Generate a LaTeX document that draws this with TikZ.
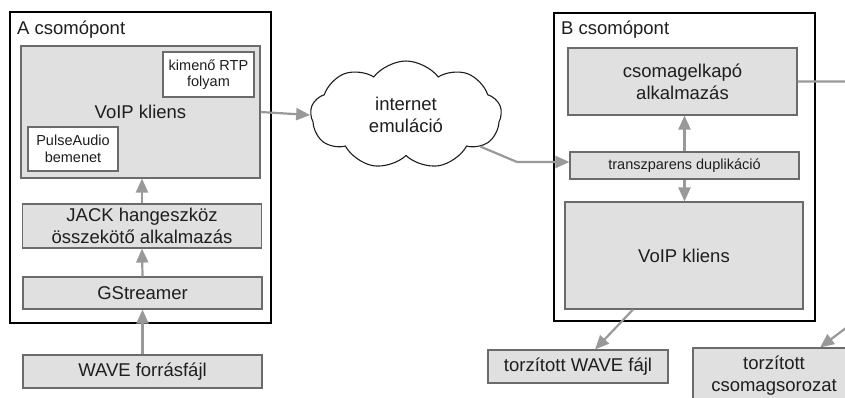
\documentclass[tikz,border=0pt]{standalone}
\usepackage{fontspec}
\setmainfont{Liberation Sans}
\usetikzlibrary{arrows.meta,shapes.symbols}
\definecolor{ink}{HTML}{1E1E1E}
\definecolor{boxfill}{HTML}{E0E0E0}
\definecolor{boxline}{HTML}{6B6B6B}
\definecolor{arrowgray}{HTML}{999999}
\newcommand{\bigtxt}{\fontsize{18.5}{22}\selectfont}
\newcommand{\smalltxt}{\fontsize{14.5}{16.5}\selectfont}
\tikzset{
  host/.style={draw=black, line width=2.4pt},
  hostlabel/.style={anchor=west, inner sep=0pt, text=ink, font=\bigtxt},
  graybox/.style={draw=boxline, fill=boxfill, line width=1.1pt, inner sep=0pt,
    text=ink, font=\bigtxt, align=center},
  whitebox/.style={draw=boxline, fill=white, line width=1.1pt, inner sep=0pt,
    text=ink, font=\smalltxt, align=center},
  arr/.style={draw=arrowgray, line width=2.2pt,
    -{Triangle[length=14pt,width=12pt,fill=arrowgray]}}
}
\begin{document}
\begin{tikzpicture}[x=1pt,y=-1pt]
\useasboundingbox (0,0) rectangle (845,397);
\clip (0,0) rectangle (845,397);

% ---- node A ----
\draw[host] (10,12) rectangle (271,323);
\node[hostlabel] (alabel) at (17,30) {A csomópont};
\node[graybox, minimum width=239pt, minimum height=132pt] (voipA) at (140.5,112) {VoIP kliens};
\node[whitebox, minimum width=91pt, minimum height=45pt] (rtp) at (208.5,74.5) {kimenő RTP\\folyam};
\node[whitebox, minimum width=90pt, minimum height=44pt] (pulse) at (73,149) {PulseAudio\\bemenet};
\node[graybox, minimum width=239pt, minimum height=44pt] (jack) at (142,226) {JACK hangeszköz\\összekötő alkalmazás};
\node[graybox, minimum width=239pt, minimum height=32pt] (gst) at (142.5,293) {GStreamer};
\node[graybox, minimum width=239pt, minimum height=33pt] (wave) at (142.5,371.5) {WAVE forrásfájl};

% ---- network ----
\node[cloud, draw=ink, fill=white, line width=1.1pt, cloud puffs=9, cloud puff arc=105,
      aspect=1.8, minimum width=191pt, minimum height=108pt, inner sep=0pt,
      text=ink, font=\bigtxt, align=center] (cloud) at (406,115) {internet\\emuláció};

% ---- node B ----
\draw[host] (554,13) rectangle (815,321);
\node[hostlabel] (blabel) at (561,30) {B csomópont};
\node[graybox, minimum width=229pt, minimum height=67pt] (capt) at (682.5,81.5) {csomagelkapó\\alkalmazás};
\node[graybox, minimum width=229pt, minimum height=27pt, font=\smalltxt] (dup) at (684.5,165.5) {transzparens duplikáció};
\node[graybox, minimum width=238pt, minimum height=107pt] (voipB) at (684,255.5) {VoIP kliens};
\node[graybox, minimum width=180pt, minimum height=33pt] (twave) at (578,366.5) {torzított WAVE fájl};
\node[graybox, minimum width=162pt, minimum height=56pt] (tseq) at (774,376) {torzított\\csomagsorozat};

% ---- connectors ----
\draw[arr] (wave.north) -- (gst.south);
\draw[arr] (gst.north) -- (jack.south);
\draw[arr] (jack.north) -- (jack.north |- voipA.south);
\draw[arr] (voipA.east) -- (cloud.west);
\coordinate (knee) at (517,162);
\draw[arr] (cloud.-23) -- (knee) -- ([yshift=3.5pt]dup.west);
\draw[arr] (dup.north) -- (dup.north |- capt.south);
\draw[arr] (dup.south) -- (dup.south |- voipB.north);
\draw[arr] ([xshift=-51pt]voipB.south) -- ([xshift=17pt]twave.north);
\coordinate (outR) at (862,81.5);
\coordinate (outD) at (862,316);
\draw[arr] (capt.east) -- (outR) -- (outD) -- ([xshift=46pt]tseq.north);
\end{tikzpicture}
\end{document}
